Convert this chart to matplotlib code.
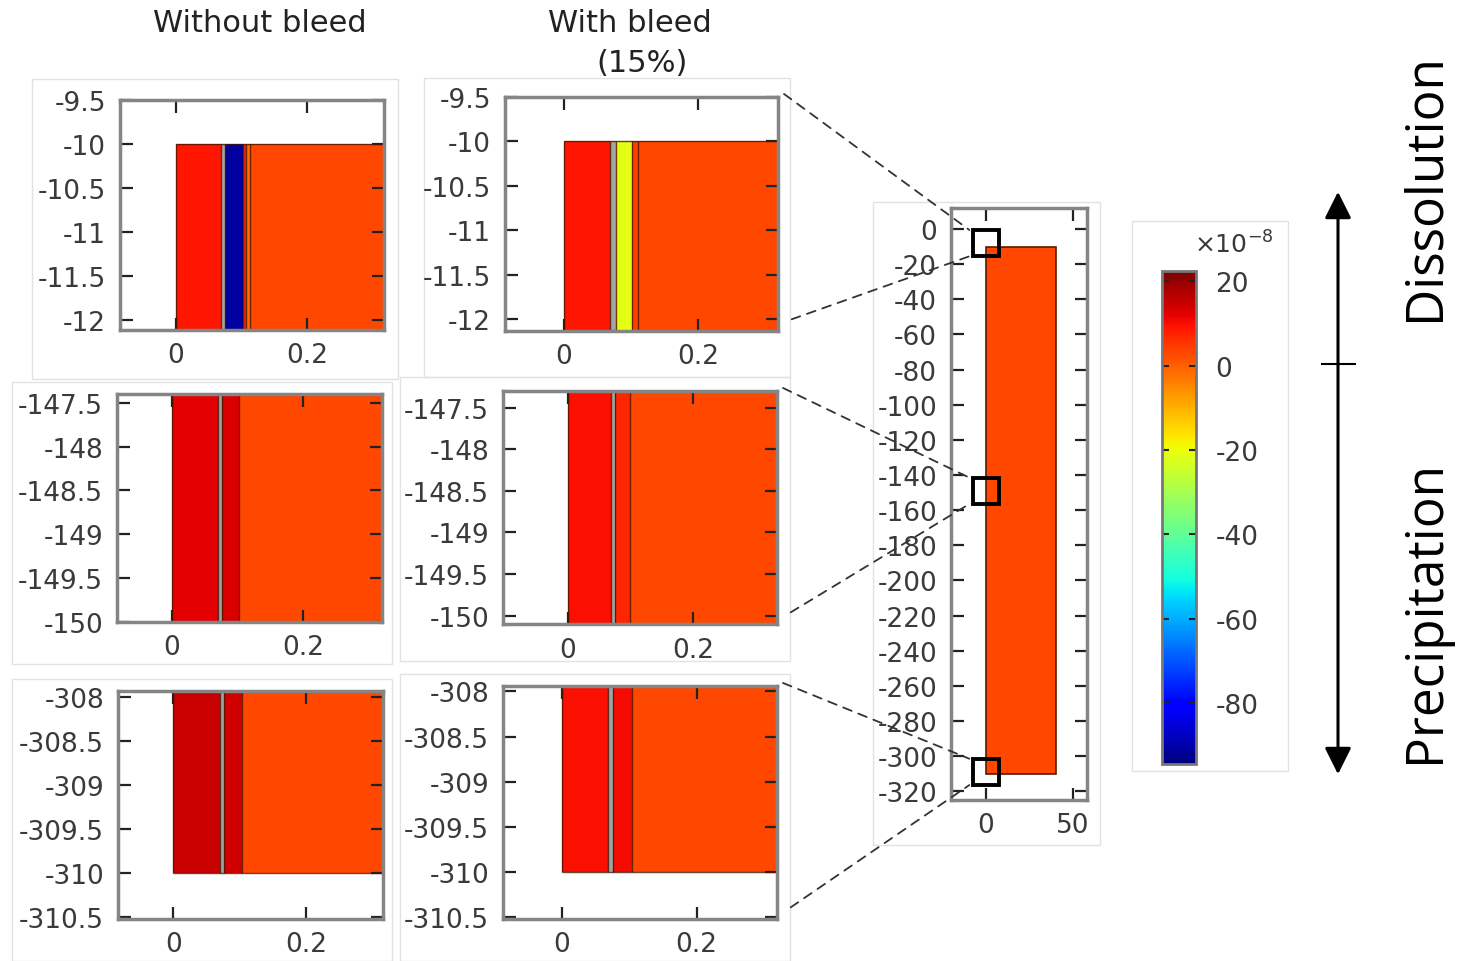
import numpy as np
import matplotlib
matplotlib.use("Agg")
import matplotlib.pyplot as plt
from matplotlib.patches import Rectangle, ConnectionPatch, FancyArrowPatch
from matplotlib.lines import Line2D
from matplotlib.colors import Normalize
from matplotlib.cm import ScalarMappable

W, H = 1461, 962
NAN = np.nan

# ---------------- data ----------------
col_titles = ["Without bleed", "With bleed", "(15%)"]
side_labels = ["Dissolution", "Precipitation"]

# reaction-rate values (x1e-8) for each layer, layer x-edges
r1_nb_edges = [0, 0.068, 0.075, 0.102, 0.107, 0.113, 0.4]
r1_nb_vals = [9, NAN, -91, 7, -2, 3]
r1_wb_edges = [0, 0.069, 0.078, 0.101, 0.110, 0.4]
r1_wb_vals = [9, NAN, -21, 4, 3]
r2_nb_edges = [0, 0.070, 0.076, 0.103, 0.4]
r2_nb_vals = [12, NAN, 13, 3]
r2_wb_edges = [0, 0.069, 0.0755, 0.099, 0.4]
r2_wb_vals = [10, NAN, 7, 3]
r3_nb_edges = [0, 0.071, 0.077, 0.104, 0.4]
r3_nb_vals = [15, NAN, 14, 3]
r3_wb_edges = [0, 0.068, 0.076, 0.104, 0.4]
r3_wb_vals = [10, NAN, 10.5, 3]

# domain vertical extents in each zoom window
r1_y = [-12.5, -10]
r2_y = [-151, -147]
r3_y = [-310, -307]

yticks_r1 = [-9.5, -10, -10.5, -11, -11.5, -12]
yticks_r2 = [-147.5, -148, -148.5, -149, -149.5, -150]
yticks_r3 = [-308, -308.5, -309, -309.5, -310, -310.5]
xticks_zoom = [0, 0.2]
xticklabels_zoom = ["0", "0.2"]

# overview geometry
ov_x = [0, 40]
ov_y = [-310, -10]
ov_val = 3
ov_yticks = [0, -20, -40, -60, -80, -100, -120, -140, -160, -180, -200,
             -220, -240, -260, -280, -300, -320]
ov_xticks = [0, 50]
zoom_centers = [-8, -149, -309]
zoom_size = 15

cbar_min, cbar_max = -94.4, 22.4
cbar_ticks = [20, 0, -20, -40, -60, -80]

# ---------------- styling ----------------
cmap = plt.get_cmap("jet").copy()
cmap.set_bad("#a4a4a4")
norm = Normalize(cbar_min, cbar_max)
TICK_FS = 19
LBL_COL = "#3a3a3a"
SPINE_COL = "#858585"

fig = plt.figure(figsize=(W / 100, H / 100), dpi=100)


def px_ax(x0, y0, x1, y1):
    return fig.add_axes([x0 / W, 1 - y1 / H, (x1 - x0) / W, (y1 - y0) / H])


def fig_box(x0, y0, x1, y1):
    fig.add_artist(Rectangle((x0 / W, 1 - y1 / H), (x1 - x0) / W, (y1 - y0) / H,
                             transform=fig.transFigure, fill=False,
                             ec="#e2e2e2", lw=1.0, zorder=0))


def style_frame(ax):
    for s in ax.spines.values():
        s.set_color(SPINE_COL)
        s.set_linewidth(2.5)
    ax.tick_params(direction="in", length=9, width=1.6, color="#222222",
                   top=True, right=True, labelsize=TICK_FS, labelcolor=LBL_COL)
    ax.tick_params(axis="y", pad=10)
    ax.tick_params(axis="x", pad=9)


# image boxes (faint frames of the exported pictures)
for b in [(32, 80, 398, 380), (424, 79, 790, 378), (12, 383, 392, 665),
          (400, 378, 790, 662), (12, 680, 392, 962), (400, 675, 790, 962),
          (873, 203, 1100, 846), (1132, 222, 1288, 772)]:
    fig_box(*b)

panels = [
    ((120, 101, 384, 331), (-0.0855, 0.3176), (-12.114, -9.5), r1_nb_edges, r1_nb_vals, r1_y, yticks_r1),
    ((505, 98, 778, 332), (-0.088, 0.319), (-12.13, -9.5), r1_wb_edges, r1_wb_vals, r1_y, yticks_r1),
    ((117, 395, 382, 623), (-0.084, 0.321), (-150.0, -147.40), r2_nb_edges, r2_nb_vals, r2_y, yticks_r2),
    ((503, 392, 777, 625), (-0.104, 0.334), (-150.1, -147.30), r2_wb_edges, r2_wb_vals, r2_y, yticks_r2),
    ((118, 692, 383, 920), (-0.083, 0.316), (-310.52, -307.93), r3_nb_edges, r3_nb_vals, r3_y, yticks_r3),
    ((503, 687, 777, 920), (-0.087, 0.319), (-310.52, -307.94), r3_wb_edges, r3_wb_vals, r3_y, yticks_r3),
]

axes = []
for box, xl, yl, edges, vals, yd, yt in panels:
    ax = px_ax(*box)
    vals_arr = np.ma.masked_invalid(np.array([vals], dtype=float))
    ax.pcolormesh(edges, yd, vals_arr, cmap=cmap, norm=norm, shading="flat")
    ax.vlines(edges[:-1], yd[0], yd[1], color="#4a1500", lw=1.0, alpha=0.8)
    ax.hlines(yd, edges[0], edges[-1], color="#4a1500", lw=1.0, alpha=0.8)
    ax.set_xlim(*xl)
    ax.set_ylim(*yl)
    ax.set_yticks(yt)
    ax.set_yticklabels([f"{v:g}" for v in yt])
    ax.set_xticks(xticks_zoom)
    ax.set_xticklabels(xticklabels_zoom)
    style_frame(ax)
    axes.append(ax)

# ---------------- overview ----------------
ov = px_ax(951, 209, 1087, 801)
ov.pcolormesh(ov_x, ov_y, np.array([[ov_val]], dtype=float), cmap=cmap, norm=norm,
              shading="flat")
ov.add_patch(Rectangle((ov_x[0], ov_y[0]), ov_x[1] - ov_x[0], ov_y[1] - ov_y[0],
                       fill=False, ec="#5a1a00", lw=1.2))
for c in zoom_centers:
    ov.add_patch(Rectangle((-zoom_size / 2, c - zoom_size / 2), zoom_size, zoom_size,
                           fill=False, ec="black", lw=2.8, zorder=5))
ov.set_xlim(-20, 58)
ov.set_ylim(-325, 12)
ov.set_yticks(ov_yticks)
ov.set_yticklabels([f"{v:g}" for v in ov_yticks])
ov.set_xticks(ov_xticks)
ov.set_xticklabels([str(v) for v in ov_xticks])
style_frame(ov)
ov.tick_params(axis="y", pad=10)

# connectors
for ax, c in zip([axes[1], axes[3], axes[5]], zoom_centers):
    for xyA, yB in [((1.022, 1.013), c + zoom_size / 2), ((1.05, 0.05), c - zoom_size / 2)]:
        con = ConnectionPatch(xyA=xyA, coordsA=ax.transAxes,
                              xyB=(-zoom_size / 2 - 2, yB), coordsB=ov.transData,
                              linestyle=(0, (5, 4)), color="#333333", lw=1.3)
        fig.add_artist(con)

# ---------------- colorbar ----------------
cax = px_ax(1162, 272, 1196, 765)
sm = ScalarMappable(norm=norm, cmap=cmap)
cb = fig.colorbar(sm, cax=cax)
cb.set_ticks(cbar_ticks)
cb.set_ticklabels([f"{v:g}" for v in cbar_ticks])
cb.outline.set_edgecolor("#777777")
cb.outline.set_linewidth(2)
cax.tick_params(direction="in", left=True, right=True, length=5, width=1.5,
                color="#222222", labelsize=TICK_FS, labelcolor=LBL_COL, pad=14)
cax.text(2.1, 1.055, r"$\times10^{-8}$", transform=cax.transAxes, ha="center",
         va="center", fontsize=18, color=LBL_COL)

# ---------------- titles ----------------
fig.text(260 / W, 1 - 23 / H, col_titles[0], ha="center", va="center",
         fontsize=22, color="#222222")
fig.text(630 / W, 1 - 23 / H, col_titles[1], ha="center", va="center",
         fontsize=22, color="#222222")
fig.text(642 / W, 1 - 63 / H, col_titles[2], ha="center", va="center",
         fontsize=22, color="#222222")

# ---------------- arrow + side labels ----------------
fig.add_artist(FancyArrowPatch((1338 / W, 1 - 778 / H), (1338 / W, 1 - 190 / H),
                               transform=fig.transFigure,
                               arrowstyle="<|-|>,head_length=0.9,head_width=0.45",
                               mutation_scale=18, lw=2.2, color="black"))
fig.add_artist(Line2D([1322 / W, 1355 / W], [1 - 365 / H, 1 - 365 / H],
                      transform=fig.transFigure, color="black", lw=1.5))
fig.text(1425 / W, 1 - 187 / H, side_labels[0], rotation=90, ha="center",
         va="center", fontsize=37, family="Open Sans", color="black")
fig.text(1425 / W, 1 - 611 / H, side_labels[1], rotation=90, ha="center",
         va="center", fontsize=37, family="Open Sans", color="black")

fig.savefig("out.png", dpi=100, facecolor="white")
